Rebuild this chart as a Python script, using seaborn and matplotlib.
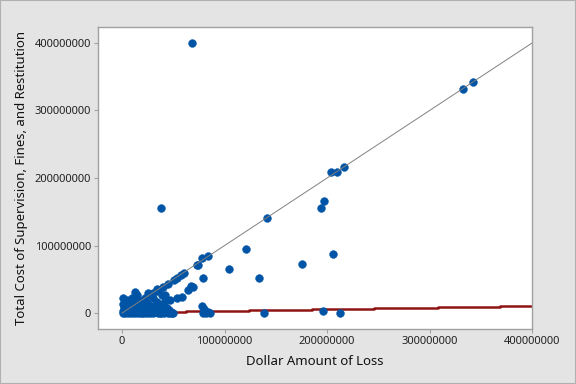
import numpy as np
import pandas as pd
import seaborn as sns
import matplotlib.pyplot as plt
from matplotlib.ticker import FuncFormatter

# --- data (millions of dollars) ---
loss_m = [
    # dense cluster near the origin
    0.5, 1, 1.5, 2, 1, 2.5, 1.3, 4.6, 3, 4, 5, 6,
    7, 8, 9, 10, 11, 12.7, 14.4, 13, 15, 16, 17, 18, 19, 20, 20.8, 22,
    24, 25, 25.7, 27, 28, 30, 30.6, 31, 32, 33, 33.9, 34, 36, 37, 38.8, 39, 40,
    42, 43, 44, 45, 46, 46.9, 48, 50, 3, 6, 9, 12, 15, 18, 21, 24, 27, 30,
    35, 38, 41, 47, 49, 10, 26, 29, 34,
    22, 28, 35, 40, 45, 8, 16,
    # along the diagonal and mid range
    42, 50.2, 53.5, 53.5, 57.4, 58.4, 60.6, 64.8, 67.2, 69, 73.3, 74, 77.9, 83.4,
    # bottom group near 80M
    78, 80, 81, 82, 84, 86, 79,
    # scattered
    78.9, 104.6, 121.3, 134, 141.8, 175.4, 194, 197, 203.4, 205.7, 209.6,
    216.4, 332.8, 342.6, 138, 196, 212.5,
    # outliers above the line
    38.1, 68.5,
]
cost_m = [
    0.5, 3, 6, 10, 14, 18, 21.8, 20, 8, 2, 12, 5,
    16, 1, 9, 4, 14, 31.6, 26.7, 20, 7, 2, 12, 18, 0.5, 10, 19.3, 3,
    15, 6, 29.2, 1, 8, 21.8, 29.2, 10, 2, 4, 35.1, 16, 6, 0.5, 26.7, 12, 3,
    18, 1, 8, 0.5, 4, 19.3, 1, 0.5, 0.2, 0.3, 0.2, 0.4, 0.3, 0.2, 0.5, 0.3, 0.2, 0.4,
    0.3, 0.2, 0.5, 0.3, 0.2, 23, 12, 5, 9,
    22, 27, 33, 38, 43, 8, 15,
    26.7, 48.9, 52.3, 21.8, 56.3, 24.1, 59.7, 34, 40, 39, 70.7, 71, 82, 84.4,
    10, 6, 2, 0.5, 1, 0.3, 0,
    51.4, 65.2, 94.8, 51.4, 140.7, 72.1, 155, 165.5, 208.4, 87, 208.9,
    215.8, 331.4, 341.8, 0, 2.5, 0,
    155.6, 400,
]

# guideline step line (millions)
step_x_m = [0, 62.6, 124, 185, 246, 308, 369, 400]
step_y_m = [1.9, 3.4, 4.9, 6.2, 7.4, 8.9, 10.4, 10.4]

# reference line y = x
ref_m = [0, 400]

df = pd.DataFrame({
    "Dollar Amount of Loss": np.array(loss_m) * 1e6,
    "Total Cost": np.array(cost_m) * 1e6,
})

sns.set_style("white")
plt.rcParams['font.family'] = ['Noto Sans', 'DejaVu Sans']

fig = plt.figure(figsize=(5.76, 3.84), dpi=100, facecolor='#e4e4e4')
ax = fig.add_axes([0.170, 0.143, 0.754, 0.787])
ax.set_facecolor('white')

ax.step(np.array(step_x_m) * 1e6, np.array(step_y_m) * 1e6, where='post',
        color='#8e1414', lw=1.8, zorder=2)

sns.scatterplot(data=df, x="Dollar Amount of Loss", y="Total Cost", ax=ax,
                color='#0054a6', s=32, edgecolor='#0054a6', linewidth=0.3,
                zorder=3, legend=False)

ax.plot(np.array(ref_m) * 1e6, np.array(ref_m) * 1e6, color='#808080',
        lw=0.7, zorder=4)

ax.set_xlim(-23.5e6, 400e6)
ax.set_ylim(-23.7e6, 423.7e6)
ax.set_xticks([0, 100e6, 200e6, 300e6, 400e6])
ax.set_yticks([0, 100e6, 200e6, 300e6, 400e6])
fmt = FuncFormatter(lambda v, p: f"{int(round(v))}")
ax.xaxis.set_major_formatter(fmt)
ax.yaxis.set_major_formatter(fmt)

for s in ax.spines.values():
    s.set_color('#a0a0a0')
    s.set_linewidth(1.0)
ax.tick_params(axis='both', direction='out', length=3, width=0.8,
               color='#a0a0a0', labelsize=8, labelcolor='#222222', pad=2)
ax.tick_params(bottom=True, left=True)

ax.set_xlabel('Dollar Amount of Loss', fontsize=9.5, color='#111111', labelpad=6)
ax.set_ylabel('Total Cost of Supervision, Fines, and Restitution', fontsize=9.5,
              color='#111111', labelpad=5)

# thin frame around the figure
fig.patches.append(plt.Rectangle((0, 0), 1, 1, transform=fig.transFigure,
                                 fill=False, edgecolor='#b0b0b0', lw=1.5))

fig.savefig('out.png', dpi=100, facecolor=fig.get_facecolor())
